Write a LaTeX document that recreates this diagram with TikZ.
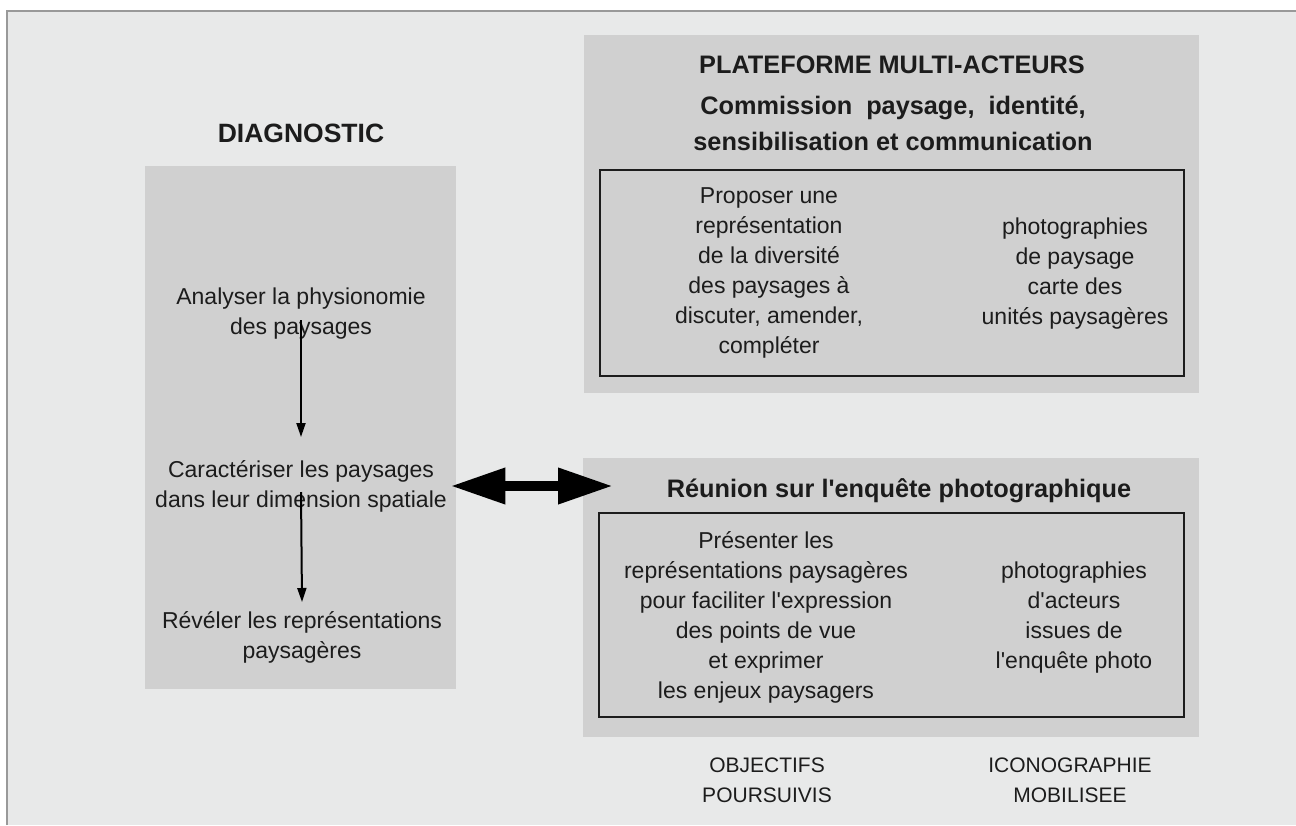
\documentclass[tikz,border=0pt]{standalone}
\usepackage{fontspec}
\setmainfont{Liberation Sans}
\usetikzlibrary{arrows.meta,positioning}

\definecolor{pagegray}{HTML}{E8E9E9}
\definecolor{panelgray}{HTML}{D0D0D0}
\definecolor{inkgray}{HTML}{1C1C1C}

\begin{document}
\begin{tikzpicture}[x=1pt,y=-1pt,inner sep=0pt,text=inkgray,
                    panel/.style = {fill=panelgray, anchor=north west},
                    framebox/.style = {draw=inkgray, line width=2pt, anchor=north west},
                    head/.style = {font=\fontsize{25.3}{36}\selectfont\bfseries, align=center, anchor=base},
                    txt/.style = {font=\fontsize{23}{30}\selectfont, align=center, anchor=base},
                    flow/.style = {-{Triangle[length=14pt,width=9pt]}, line width=2pt},
                    swap/.style = {{Triangle[length=55pt,width=34pt]}-{Triangle[length=55pt,width=34pt]}, line width=10pt}]
  \useasboundingbox (0,0) rectangle (1296,825);
  \fill[white] (0,0) rectangle (1296,825);
  \fill[pagegray] (7,11) rectangle (1296,825);
  \draw[black!40, line width=2pt] (7,825) -- (7,11) -- (1296,11);

  % panels
  \node[panel, minimum width=311pt, minimum height=523pt] (diag) at (145,166) {};
  \node[panel, minimum width=615pt, minimum height=358pt] (plat) at (584,35) {};
  \node[panel, minimum width=616pt, minimum height=279pt] (reun) at (583,458) {};
  \node[framebox, minimum width=584pt, minimum height=206pt] (platbox) at (599,169) {};
  \node[framebox, minimum width=585pt, minimum height=204pt] (reunbox) at (598,512) {};

  % diagnostic column
  \node[head, font=\fontsize{26.5}{36}\selectfont\bfseries] (diagtitle) at (301,142) {DIAGNOSTIC};
  \node[txt] (analyse) at (301,334) {Analyser la physionomie\\des paysages};
  \node[txt] (caract)  at (301,507) {Caractériser les paysages\\dans leur dimension spatiale};
  \node[txt] (revel)   at (302,658) {Révéler les représentations\\paysagères};

  % plateforme
  \node[head] (plattitle) at (892,73) {PLATEFORME MULTI-ACTEURS};
  \node[head] (comm) at (893,150) {Commission~~paysage,~~identité,\\sensibilisation et communication};
  \node[txt] (objplat) at (769,353) {Proposer une\\représentation\\de la diversité\\des paysages à\\discuter, amender,\\compléter};
  \node[txt] (icoplat) at (1075,324) {photographies\\de paysage\\carte des\\unités paysagères};

  % reunion
  \node[head] (reuntitle) at (899,497) {Réunion sur l\textquotesingle enquête photographique};
  \node[txt] (objreun) at (766,698) {Présenter les\\représentations paysagères\\pour faciliter l\textquotesingle expression\\des points de vue\\et exprimer\\les enjeux paysagers};
  \node[txt] (icoreun) at (1074,668) {photographies\\d\textquotesingle acteurs\\issues de\\l\textquotesingle enquête photo};

  % column labels
  \node[txt, font=\fontsize{21}{30}\selectfont] (obj) at (767,802) {OBJECTIFS\\POURSUIVIS};
  \node[txt, font=\fontsize{21}{30}\selectfont] (ico) at (1070,802) {ICONOGRAPHIE\\MOBILISEE};

  \coordinate (enq) at (613,486);
  \draw[flow] ([yshift=14pt]analyse.base) -- ([yshift=70pt]caract.base);
  \draw[flow] ([yshift=15pt]caract.base) -- ([yshift=56pt]revel.base);
  \draw[swap] ([xshift=-6pt]diag.east |- enq) -- (enq);
\end{tikzpicture}
\end{document}
